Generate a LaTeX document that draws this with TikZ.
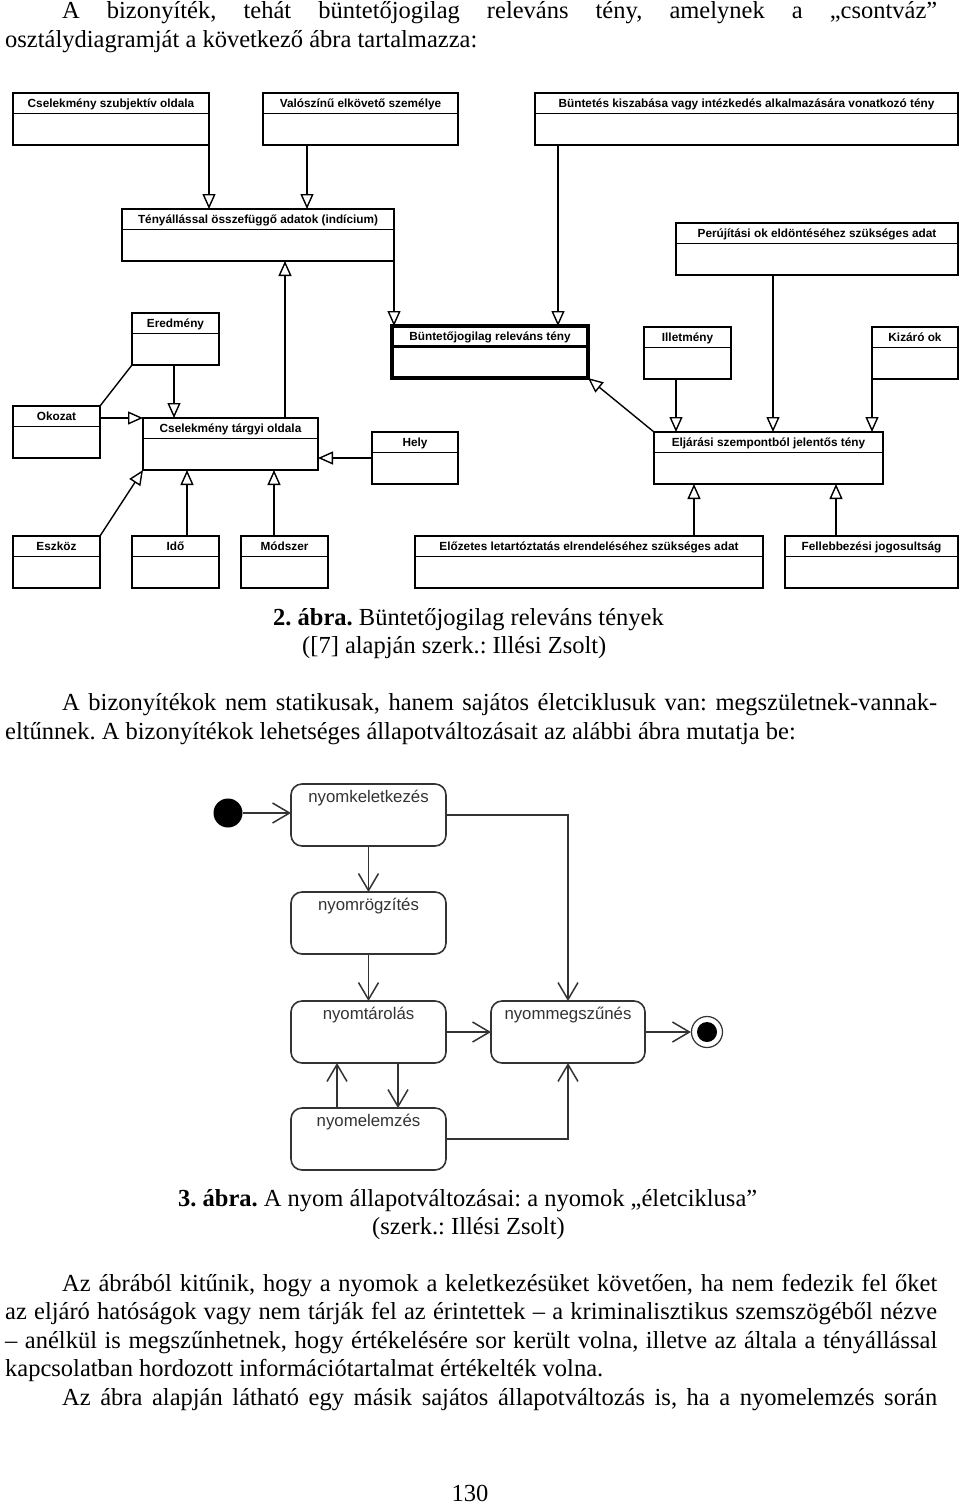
\documentclass[tikz,border=0pt]{standalone}
\usepackage{fontspec}
\setmainfont{Liberation Serif}
\newfontfamily\umlfont{Liberation Sans}
\usetikzlibrary{arrows.meta, positioning}
\frenchspacing

\begin{document}
\begin{tikzpicture}
[x=1pt, y=-1pt,
 inh/.style={line width=1.4pt, arrows={-Triangle[open, length=15pt, width=13pt]}},
 assoc/.style={line width=1.4pt},
 trans/.style={line width=1.5pt, draw=black!80, arrows={-Straight Barb[length=17pt, width=20pt]}},
 classB/.style={shape=rectangle, draw, line width=#1, anchor=north west, outer sep=0pt, inner sep=0pt,
   text height=14.5pt, text depth=37.5pt, font=\umlfont\bfseries\fontsize{11.8}{13}\selectfont,
   path picture={\draw[line width=#1] ([yshift=-20.7pt]path picture bounding box.north west)
     -- ([yshift=-20.7pt]path picture bounding box.north east);}},
 classB/.default=1.4pt,
 stateB/.style={shape=rectangle, rounded corners=11pt, draw=black!80, line width=1.6pt, anchor=north west,
   outer sep=0pt, inner sep=0pt, minimum width=155pt, text height=18pt, text depth=44pt,
   text=black!80, font=\umlfont\fontsize{16.8}{18}\selectfont},
 startB/.style={shape=circle, fill=black, minimum size=29pt, inner sep=0pt},
 stopB/.style={shape=circle, draw=black!80, line width=1.2pt, minimum size=31pt, inner sep=0pt,
   path picture={\fill (path picture bounding box.center) circle[radius=10pt];}},
 txt/.style={anchor=base west, inner sep=0pt, font=\fontsize{24.5}{28}\selectfont}]
\path[fill=white, use as bounding box] (0,0) rectangle (960,1505);

% text above the first figure
\node[txt] (p1a) at (62,18) {\makebox[875pt][s]{A bizonyíték, tehát büntetőjogilag releváns tény, amelynek a „csontváz”}};
\node[txt] (p1b) at (5,47) {osztálydiagramját a következő ábra tartalmazza:};

% class diagram
\node[classB, minimum width=196pt] (CSzub) at (13,93) {Cselekmény szubjektív oldala};
\node[classB, minimum width=195pt] (Valo) at (263,93) {Valószínű elkövető személye};
\node[classB, minimum width=423pt] (Bunt) at (535,93) {Büntetés kiszabása vagy intézkedés alkalmazására vonatkozó tény};
\node[classB, minimum width=272pt] (Teny) at (122,209) {Tényállással összefüggő adatok (indícium)};
\node[classB, minimum width=282pt] (Peru) at (676,223) {Perújítási ok eldöntéséhez szükséges adat};
\node[classB, minimum width=87pt] (Ered) at (132,313) {Eredmény};
\node[classB=3.4pt, minimum width=196pt] (BRT) at (392,326) {Büntetőjogilag releváns tény};
\node[classB, minimum width=87pt] (Illet) at (644,327) {Illetmény};
\node[classB, minimum width=86pt] (Kiz) at (872,327) {Kizáró ok};
\node[classB, minimum width=87pt] (Okoz) at (13,406) {Okozat};
\node[classB, minimum width=175pt] (CsT) at (143,418) {Cselekmény tárgyi oldala};
\node[classB, minimum width=86pt] (Hely) at (372,432) {Hely};
\node[classB, minimum width=229pt] (Eljar) at (654,432) {Eljárási szempontból jelentős tény};
\node[classB, minimum width=87pt] (Eszk) at (13,536) {Eszköz};
\node[classB, minimum width=87pt] (Ido) at (132,536) {Idő};
\node[classB, minimum width=87pt] (Modsz) at (241,536) {Módszer};
\node[classB, minimum width=348pt] (Elozet) at (415,536) {Előzetes letartóztatás elrendeléséhez szükséges adat};
\node[classB, minimum width=173pt] (Fell) at (785,536) {Fellebbezési jogosultság};

\coordinate [right=44pt of Valo.south west] (Valo1);
\coordinate [right=142pt of CsT.north west] (CsT1);
\coordinate [right=23pt of Bunt.south west] (Bunt1);
\coordinate [right=32pt of Illet.south west] (Illet1);
\coordinate [right=97pt of Peru.south west] (Peru1);
\coordinate [right=42pt of Ered.south west] (Ered1);
\coordinate [right=55pt of Ido.north west] (Ido1);
\coordinate [right=33pt of Modsz.north west] (Modsz1);
\coordinate [right=279pt of Elozet.north west] (Elozet1);
\coordinate [right=51pt of Fell.north west] (Fell1);

\draw [inh] (CSzub.south east) -- (CSzub.south east |- Teny.north);
\draw [inh] (Valo1) -- (Valo1 |- Teny.north);
\draw [inh] (CsT1) -- (CsT1 |- Teny.south);
\draw [inh] (Teny.south east) -- (Teny.south east |- BRT.north);
\draw [inh] (Bunt1) -- (Bunt1 |- BRT.north);
\draw [inh] (Eljar.north west) -- (BRT.south east);
\draw [inh] (Illet1) -- (Illet1 |- Eljar.north);
\draw [inh] (Peru1) -- (Peru1 |- Eljar.north);
\draw [inh] (Kiz.south west) -- (Kiz.south west |- Eljar.north);
\draw [inh] (Ered1) -- (Ered1 |- CsT.north);
\draw [assoc] (Ered.south west) -- (Okoz.north east);
\draw [inh] (CsT.north west -| Okoz.east) -- (CsT.north west);
\draw [inh] (Hely.west) -- (Hely.west -| CsT.east);
\draw [inh] (Eszk.north east) -- (CsT.south west);
\draw [inh] (Ido1) -- (Ido1 |- CsT.south);
\draw [inh] (Modsz1) -- (Modsz1 |- CsT.south);
\draw [inh] (Elozet1) -- (Elozet1 |- Eljar.south);
\draw [inh] (Fell1) -- (Fell1 |- Eljar.south);

% caption and text between the figures
\node[txt] (cap1a) at (273,625) {\textbf{2. ábra.} Büntetőjogilag releváns tények};
\node[txt] (cap1b) at (302,653) {([7] alapján szerk.: Illési Zsolt)};
\node[txt] (p2a) at (62,710) {\makebox[875pt][s]{A bizonyítékok nem statikusak, hanem sajátos életciklusuk van: megszületnek-vannak-}};
\node[txt] (p2b) at (5,739) {eltűnnek. A bizonyítékok lehetséges állapotváltozásait az alábbi ábra mutatja be:};

% state diagram
\node[startB] (start) at (228,813) {};
\node[stateB] (keletk) at (291,784) {nyomkeletkezés};
\node[stateB] (rogzit) at (291,892) {nyomrögzítés};
\node[stateB] (tarol) at (291,1001) {nyomtárolás};
\node[stateB] (elemz) at (291,1108) {nyomelemzés};
\node[stateB, minimum width=154pt] (megsz) at (491,1001) {nyommegszűnés};
\node[stopB] (stop) at (707,1032) {};

\coordinate [right=107pt of tarol.south west] (tarol1);
\coordinate [right=46pt of elemz.north west] (elemz1);

\draw [trans] (start) -- (start -| keletk.west);
\draw [trans] (keletk) -- (rogzit);
\draw [trans] (rogzit) -- (tarol);
\draw [trans] (tarol1) -- (tarol1 |- elemz.north);
\draw [trans] (elemz1) -- (elemz1 |- tarol.south);
\draw [trans] (tarol) -- (megsz);
\draw [trans] (megsz) -- (stop);
\draw [trans] (keletk.east) -| (megsz.north);
\draw [trans] (elemz.east) -| (megsz.south);

% caption and text below
\node[txt] (cap2a) at (178,1206) {\textbf{3. ábra.} A nyom állapotváltozásai: a nyomok „életciklusa”};
\node[txt] (cap2b) at (372,1234) {(szerk.: Illési Zsolt)};
\node[txt] (p3a) at (62,1291) {\makebox[875pt][s]{Az ábrából kitűnik, hogy a nyomok a keletkezésüket követően, ha nem fedezik fel őket}};
\node[txt] (p3b) at (5,1319) {\makebox[932pt][s]{az eljáró hatóságok vagy nem tárják fel az érintettek – a kriminalisztikus szemszögéből nézve}};
\node[txt] (p3c) at (5,1348) {\makebox[932pt][s]{– anélkül is megszűnhetnek, hogy értékelésére sor került volna, illetve az általa a tényállással}};
\node[txt] (p3d) at (5,1376) {kapcsolatban hordozott információtartalmat értékelték volna.};
\node[txt] (p4a) at (62,1405) {\makebox[875pt][s]{Az ábra alapján látható egy másik sajátos állapotváltozás is, ha a nyomelemzés során}};
\node[txt, anchor=base] (page) at (470,1501) {130};
\end{tikzpicture}
\end{document}
